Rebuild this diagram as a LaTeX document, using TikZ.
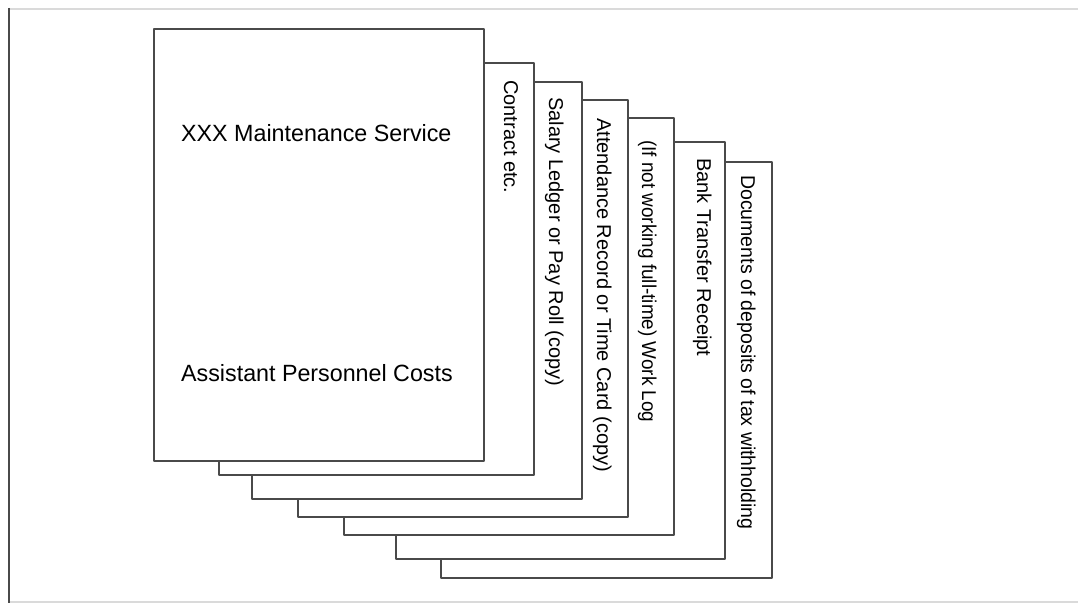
\documentclass[tikz,border=0pt]{standalone}
\usepackage{fontspec}
\setmainfont{Liberation Sans}
\definecolor{linegray}{HTML}{4A4A4A}
\definecolor{framelight}{HTML}{DADADA}
\begin{document}
\begin{tikzpicture}[x=1pt,y=-1pt,
  page/.style={draw=linegray, line width=2.6pt, fill=white, line join=round},
  sidelabel/.style={rotate=-90, anchor=base west, inner sep=0pt, font=\fontsize{20}{24}\selectfont},
  mainlabel/.style={anchor=base west, inner sep=0pt, font=\fontsize{23.5}{28}\selectfont}]
\useasboundingbox (0,0) rectangle (1078,604);
% frame
\draw[framelight, line width=2pt] (9,9) -- (1078,9);
\draw[framelight, line width=2pt] (9,602) -- (1078,602);
\draw[linegray, line width=2.4pt] (9,8) -- (9,603);
% pages, back to front
\draw[page] (441,162) rectangle (772,578);
\draw[page] (396,142) rectangle (725,559);
\draw[page] (344,118) rectangle (674,535);
\draw[page] (298,100) rectangle (628,517);
\draw[page] (252,82) rectangle (582,499);
\draw[page] (219,63) rectangle (534,475);
\draw[page] (154,29) rectangle (484,461);
% labels
\node[mainlabel] (title) at (181,142) {\scalebox{0.99}[1]{XXX Maintenance Service}};
\node[mainlabel] (costs) at (181,381) {\scalebox{0.99}[1]{Assistant Personnel Costs}};
\node[sidelabel] (contract) at (504,80) {Contract etc.};
\node[sidelabel] (salary) at (549,97) {Salary Ledger or Pay Roll (copy)};
\node[sidelabel] (attend) at (597,118) {Attendance Record or Time Card (copy)};
\node[sidelabel] (worklog) at (642,140) {\scalebox{0.945}[1]{(If not working full-time) Work Log}};
\node[sidelabel] (bank) at (697,158) {Bank Transfer Receipt};
\node[sidelabel] (tax) at (741,175) {\scalebox{0.975}[1]{Documents of deposits of tax withholding}};
\end{tikzpicture}
\end{document}
